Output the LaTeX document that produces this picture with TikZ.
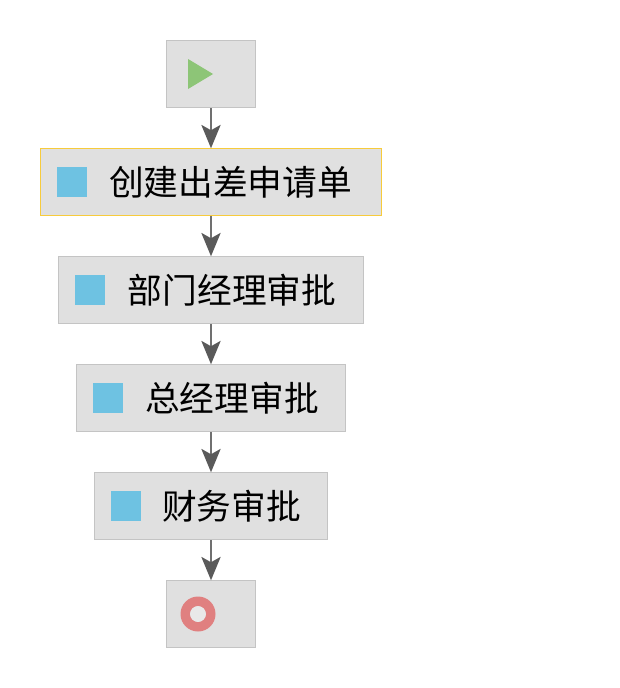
\documentclass[tikz,border=0pt]{standalone}
\usepackage{fontspec}
\newfontfamily\cjk{Noto Sans CJK SC}
\usetikzlibrary{arrows.meta}
\definecolor{boxfill}{HTML}{E0E0E0}
\definecolor{boxline}{HTML}{C4C4C4}
\definecolor{selline}{HTML}{F7CB3C}
\definecolor{iconblue}{HTML}{6EC2E2}
\definecolor{icongreen}{HTML}{8DC577}
\definecolor{iconred}{HTML}{E08080}
\definecolor{arrowgray}{HTML}{5A5A5A}
\definecolor{stemgray}{HTML}{707070}
\definecolor{ringhole}{HTML}{E9E9E9}
\tikzset{
  x=1pt,y=-1pt,
  stagebox/.style={draw=boxline,fill=boxfill,line width=1.5pt,inner sep=0pt,minimum height=67pt},
  selbox/.style={stagebox,draw=selline},
  tasksq/.style={fill=iconblue,inner sep=0pt,minimum size=30pt},
  label/.style={inner sep=0pt,font=\cjk\fontsize{34.7}{36}\selectfont,text=black},
  flow/.style={draw=stemgray,line width=2.4pt,-{Stealth[length=23.5pt,width=19.5pt,inset=5.5pt,color=arrowgray,line width=0pt]},shorten >=-0.5pt},
}
\begin{document}
\begin{tikzpicture}
\useasboundingbox (0,0) rectangle (620,688);
\fill[white] (0,0) rectangle (620,688);
\node[stagebox,minimum width=89pt] (start) at (211,74) {};
\node[selbox,minimum width=341pt] (create) at (211,182) {};
\node[stagebox,minimum width=305pt] (dept) at (211,290) {};
\node[stagebox,minimum width=269pt] (gm) at (211,398) {};
\node[stagebox,minimum width=233pt] (fin) at (211,506) {};
\node[stagebox,minimum width=89pt] (end) at (211,614) {};
\fill[icongreen] (188,59) -- (213,74) -- (188,89) -- cycle;
\node[tasksq] (s1) at (72,182) {};
\node[tasksq] (s2) at (90,290) {};
\node[tasksq] (s3) at (108,398) {};
\node[tasksq] (s4) at (126,506) {};
\fill[iconred,even odd rule] (198,614) circle[radius=17.5] (198,614) circle[radius=7.9];
\fill[ringhole] (198,614) circle[radius=7.9];
\node[label] (t1) at (230.5,182) {创建出差申请单};
\node[label] (t2) at (232,290) {部门经理审批};
\node[label] (t3) at (232,398) {总经理审批};
\node[label] (t4) at (231.5,506) {财务审批};
\draw[flow] (start.south) -- (create.north);
\draw[flow] (create.south) -- (dept.north);
\draw[flow] (dept.south) -- (gm.north);
\draw[flow] (gm.south) -- (fin.north);
\draw[flow] (fin.south) -- (end.north);
\end{tikzpicture}
\end{document}
